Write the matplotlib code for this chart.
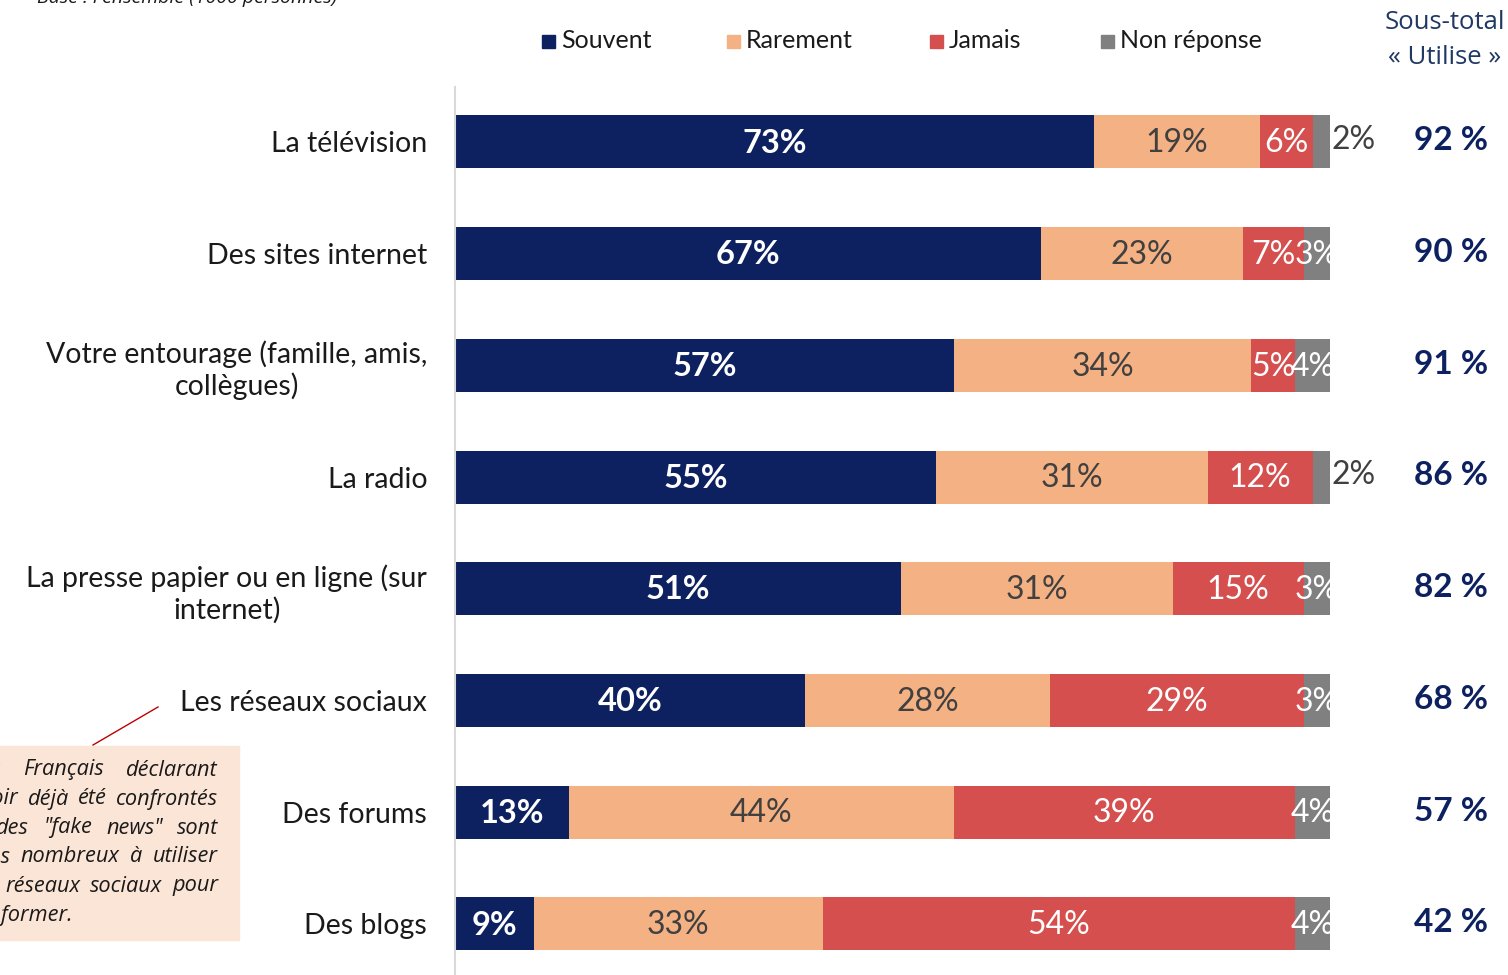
import matplotlib
matplotlib.use("Agg")
import matplotlib.pyplot as plt
from matplotlib.patches import Rectangle
from matplotlib.lines import Line2D
import matplotlib.transforms as mtransforms

plt.rcParams['font.family'] = ['Lato', 'DejaVu Sans']

categories = ["La télévision", "Des sites internet",
              "Votre entourage (famille, amis,\ncollègues)", "La radio",
              "La presse papier ou en ligne (sur\ninternet)", "Les réseaux sociaux",
              "Des forums", "Des blogs"]
souvent = [73, 67, 57, 55, 51, 40, 13, 9]
rarement = [19, 23, 34, 31, 31, 28, 44, 33]
jamais = [6, 7, 5, 12, 15, 29, 39, 54]
non_reponse = [2, 3, 4, 2, 3, 3, 4, 4]
sous_total = [92, 90, 91, 86, 82, 68, 57, 42]
series_names = ["Souvent", "Rarement", "Jamais", "Non réponse"]
colors = ["#0D2160", "#F4B183", "#D64F4F", "#808080"]
label_colors = ["white", "#404040", "white", "white"]
note_lines = ["Les Français déclarant", "avoir déjà été confrontés",
              "à des \"fake news\" sont", "plus nombreux à utiliser",
              "les réseaux sociaux pour", "s'informer."]

W, H = 1508, 975
fig = plt.figure(figsize=(W / 100, H / 100), dpi=100)

def fx(px):
    return px / W

def fy(py):
    return 1 - py / H

ax = fig.add_axes([fx(455), fy(975), fx(1330) - fx(455), fy(87) - fy(975)])
n = len(categories)
ys = list(range(n))
series = [souvent, rarement, jamais, non_reponse]
left = [0] * n
for s, (vals, col, lc) in enumerate(zip(series, colors, label_colors)):
    ax.barh(ys, vals, left=left, height=0.475, color=col, edgecolor='none')
    for i, v in enumerate(vals):
        cx = left[i] + v / 2
        if s == 0:
            ax.text(cx, i + 0.01, f"{v}%", ha='center', va='center', color='white',
                    fontsize=23.5, fontweight='bold')
        elif s == 3 and v <= 2:
            ax.text(left[i] + v + 0.2, i - 0.02, f"{v}%", ha='left', va='center',
                    color='#404040', fontsize=23, clip_on=False)
        else:
            ax.text(cx, i + 0.01, f"{v}%", ha='center', va='center', color=lc,
                    fontsize=23, clip_on=True)
    left = [l + v for l, v in zip(left, vals)]

ax.set_xlim(0, 100)
ax.set_ylim(7.457, -0.492)
for sp in ['top', 'right', 'bottom']:
    ax.spines[sp].set_visible(False)
ax.spines['left'].set_color('#D9D9D9')
ax.spines['left'].set_linewidth(1.5)
ax.set_xticks([])
ax.set_yticks(ys)
ax.set_yticklabels(categories, fontsize=20.5, color='#1A1A1A', linespacing=1.22)
ax.tick_params(axis='y', length=0, pad=20)
for lbl in ax.get_yticklabels():
    lbl.set_multialignment('center')

# Sub-totals
trans = mtransforms.blended_transform_factory(fig.transFigure, ax.transData)
for i, v in enumerate(sous_total):
    ax.text(fx(1451), i - 0.01, f"{v} %", transform=trans, ha='center', va='center',
            fontsize=24, fontweight='bold', color='#0D2160', clip_on=False)
fig.text(fx(1445), fy(40), "Sous-total\n« Utilise »", ha='center', va='center',
         fontsize=18.5, color='#1F3864', linespacing=1.5,
         family=['Open Sans', 'DejaVu Sans'])

# Legend
leg_x = [542, 727, 930, 1101]
for name, col, x in zip(series_names, colors, leg_x):
    fig.patches.append(Rectangle((fx(x), fy(48)), fx(13), 13 / H, color=col,
                                 transform=fig.transFigure, figure=fig))
    fig.text(fx(x + 19), fy(41), name, ha='left', va='center', fontsize=18,
             color='#1A1A1A')

# Base text (cut at top)
fig.text(fx(37), fy(3), "Base : l'ensemble (1000 personnes)", ha='left',
         va='baseline', fontsize=14, style='italic', color='#1A1A1A',
         family=['Open Sans', 'DejaVu Sans'])

# Annotation box with justified text
fig.patches.append(Rectangle((0, fy(940)), fx(239), (940 - 746) / H,
                             color='#FBE5D6', transform=fig.transFigure, figure=fig))
renderer = fig.canvas.get_renderer()
note_kw = dict(fontsize=15.7, style='italic', color='#1A1A1A', va='center',
               ha='left', family=['Open Sans', 'DejaVu Sans'])
x_left, x_right = -30, 218
for k, line in enumerate(note_lines):
    yk = fy(770 + 29 * k)
    words = line.split()
    texts = [fig.text(0, yk, w, **note_kw) for w in words]
    widths = [t.get_window_extent(renderer).width for t in texts]
    if k < len(note_lines) - 1 and len(words) > 1:
        gap = (x_right - x_left - sum(widths)) / (len(words) - 1)
    else:
        gap = 5
    x = x_left
    for t, w in zip(texts, widths):
        t.set_x(fx(x))
        x += w + gap
fig.lines.append(Line2D([fx(93), fx(158)], [fy(745), fy(707)], color='#C00000',
                        lw=1, transform=fig.transFigure))

fig.savefig("out.png", dpi=100)
